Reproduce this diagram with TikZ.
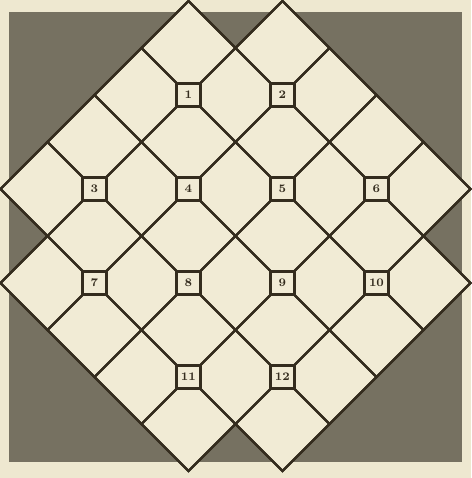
\documentclass[tikz,border=0pt]{standalone}
\usepackage{tikz}
\usetikzlibrary{calc}
\definecolor{paper}{RGB}{238,232,208}
\definecolor{tile}{RGB}{241,235,213}
\definecolor{groundgrey}{RGB}{118,113,97}
\definecolor{ink}{RGB}{52,44,30}

\begin{document}
\begin{tikzpicture}[
    tilecell/.style={draw=ink, line width=1.4pt, line join=miter},
    numbox/.style={draw=ink, line width=1.7pt, fill=tile, minimum size=0.5cm, inner sep=0pt, font=\scriptsize\bfseries, text=ink}
]
\fill[paper] (-5.01,-5.15) rectangle (5.02,5.02);
\useasboundingbox (-5.01,-5.15) rectangle (5.02,5.02);
\fill[groundgrey] (-4.82,-4.81) rectangle (4.82,4.77);

% outline of the tiled field
\filldraw[tilecell, fill=tile] (-1,5) -- (0,4) -- (1,5) -- (5,1) -- (4,0) -- (5,-1)
  -- (1,-5) -- (0,-4) -- (-1,-5) -- (-5,-1) -- (-4,0) -- (-5,1) -- cycle;

% one diamond per tile
\foreach \a in {-4,...,4}
  \foreach \b in {-4,...,4} {
    \pgfmathtruncatemacro\ok{and(isodd(\a+\b), abs(\a)+abs(\b)<6)}
    \ifnum\ok=1
      \draw[tilecell] ({\a-1},\b) -- (\a,{\b+1}) -- ({\a+1},\b) -- (\a,{\b-1}) -- cycle;
    \fi
  }

% numbered posts
\foreach \n/\x/\y in {1/-1/3, 2/1/3, 3/-3/1, 4/-1/1, 5/1/1, 6/3/1,
                      7/-3/-1, 8/-1/-1, 9/1/-1, 10/3/-1, 11/-1/-3, 12/1/-3}
  \node[numbox] (n\n) at (\x,\y) {\n};
\end{tikzpicture}
\end{document}
